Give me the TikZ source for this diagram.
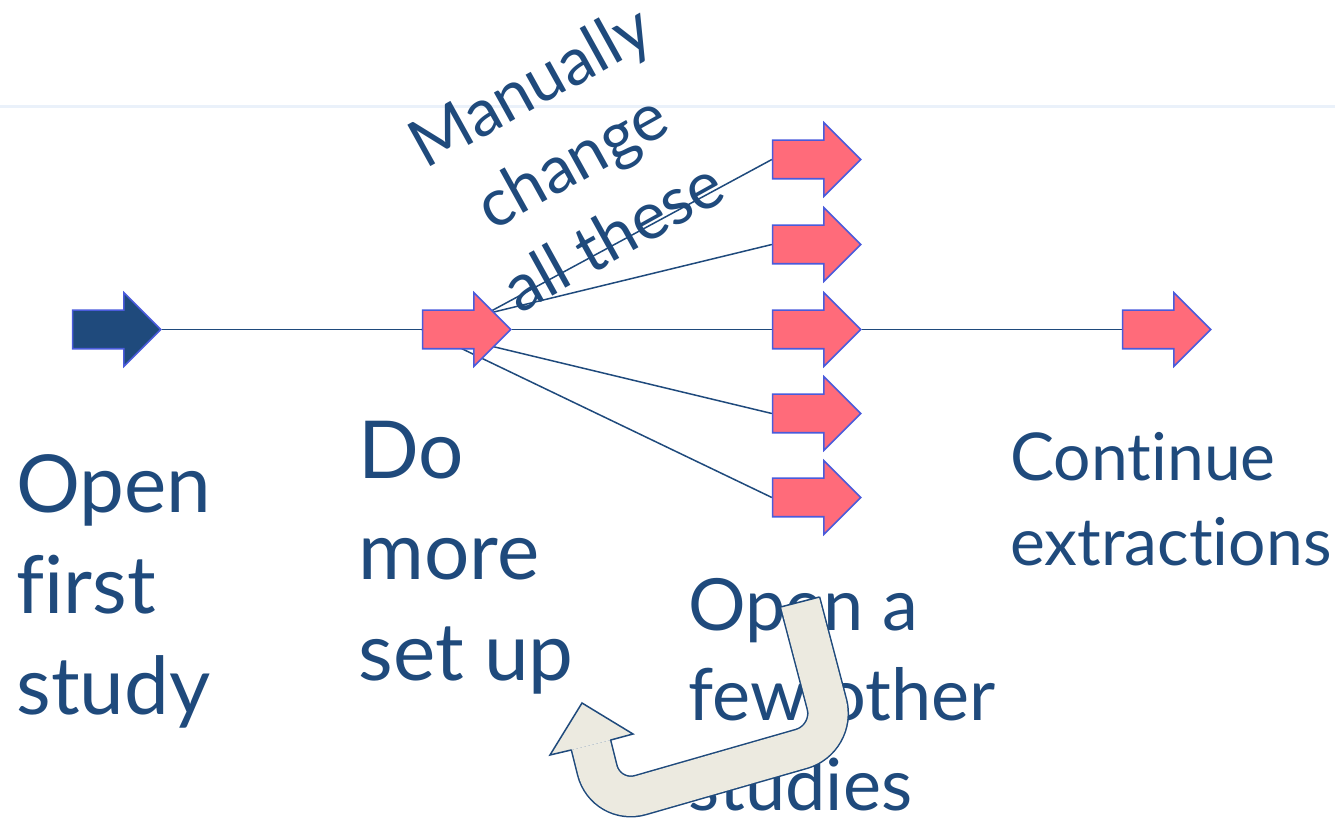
\documentclass[tikz,border=0pt]{standalone}
\usepackage{fontspec}
\setmainfont{Lato}[Ligatures={NoCommon,NoRare}]
\usetikzlibrary{positioning,shapes.arrows,backgrounds}
\definecolor{navy}{HTML}{1F4A7C}
\definecolor{edgeblue}{HTML}{4A5BDB}
\definecolor{salmon}{HTML}{FF6B7A}
\definecolor{paper}{HTML}{ECEAE0}
\definecolor{rulecol}{HTML}{EAF1FA}

\begin{document}
\begin{tikzpicture}[x=0.5pt, y=-0.5pt,
						redarrow/.style={single arrow, draw=edgeblue, fill=salmon, line width=0.8pt, minimum height=44pt, minimum width=36pt, single arrow head extend=8.75pt, inner sep=0pt, text height=9.25pt, text depth=9.25pt},
						darkarrow/.style={redarrow, fill=navy},
						link/.style={draw=navy, line width=0.75pt},
						bigtext/.style={text=navy, align=left, anchor=base west, inner sep=0pt, font=\fontsize{40pt}{50.5pt}\selectfont},
						midtext/.style={text=navy, align=left, anchor=base west, inner sep=0pt, font=\fontsize{33pt}{43pt}\selectfont},
						node distance=175pt and 175pt, on grid
					]
					\useasboundingbox (0,0) rectangle (1335,818);
					\draw[rulecol, line width=1.5pt] (0,107) -- (1335,107);
					\node[darkarrow] (open) at (107,329.5) {};
					\node[redarrow] (setup) [right=of open] {};
					\node[redarrow] (chg3) [right=of setup] {};
					\node[redarrow] (chg2) [above=42.5pt of chg3] {};
					\node[redarrow] (chg1) [above=42.5pt of chg2] {};
					\node[redarrow] (chg4) [below=42pt of chg3] {};
					\node[redarrow] (chg5) [below=42pt of chg4] {};
					\node[redarrow] (cont) [right=of chg3] {};
					\begin{scope}[on background layer]
					\draw[link] (open) -- (setup);
					\draw[link] (setup.center) -- (chg1.tail);
					\draw[link] (setup.tail) -- (chg2.tail);
					\draw[link] (setup.tip) -- (chg3.tail);
					\draw[link] (setup.tail) -- (chg4.tail);
					\draw[link] (setup.tail) -- (chg5.tail);
					\draw[link] (chg3.tip) -- (cont.tail);
					\end{scope}
					\node[bigtext] (opentxt) at (16,714) {Open\\first\\study};
					\node[bigtext] (setuptxt) at (358,680) {Do\\more\\set up};
					\node[midtext] (conttxt) at (1010,566) {Continue\\extractions};
					\node[midtext, font=\fontsize{36pt}{45pt}\selectfont] (othertxt) at (688,810) {Open a\\few other\\studies};
					\node[midtext, anchor=center, align=center, rotate=29, font=\fontsize{33pt}{43pt}\selectfont] (note) at (571,160) {Manually\\change\\all these};
					% turn back arrow
					\draw[navy, line width=0.75pt, double=paper, double distance=19.5pt, rounded corners=18pt]
						(800,602) -- (836,739) -- (606,805) -- (591,745);
					\draw[navy, line width=0.75pt] (780.5,607) -- (819.5,597);
					\fill[paper] (633,734) -- (582,703) -- (550,755) -- cycle;
					\draw[navy, line width=0.75pt] (610.4,740.1) -- (633,734) -- (582,703) -- (550,755) -- (571.6,749.9);
					\end{tikzpicture}
\end{document}
